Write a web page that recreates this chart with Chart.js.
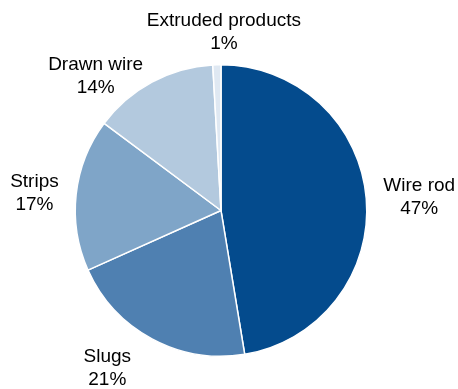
<!DOCTYPE html>
<html>
<head>
<meta charset="utf-8">
<script src="https://cdn.jsdelivr.net/npm/chart.js@4/dist/chart.umd.min.js"></script>
<style>
  html, body { margin: 0; padding: 0; background: #fff; }
  #wrap { width: 458px; height: 389px; }
</style>
</head>
<body>
<div id="wrap"><canvas id="productPie" width="458" height="389"></canvas></div>
<script>
// Product mix, clockwise from 12 o'clock
const categories = ['Wire rod', 'Slugs', 'Strips', 'Drawn wire', 'Extruded products'];
const shares = [47.4, 20.9, 16.9, 13.9, 0.9];
const shareLabels = ['47%', '21%', '17%', '14%', '1%'];

const sliceColors = ['#044b8d', '#4f80b1', '#7fa5c8', '#b3c9de', '#dfe8f2'];

// label block centres, relative to pie centre, in units of the radius
const labelAnchors = [
    [1.36, -0.09],
    [-0.78, 1.08],
    [-1.28, -0.12],
    [-0.86, -0.92],
    [0.02, -1.22]
];

const FONT = '19px "Liberation Sans", Arial, sans-serif';

const outsideLabels = {
    id: 'outsideLabels',
    afterDraw(chart) {
        const arc = chart.getDatasetMeta(0).data[0];
        if (!arc) return;
        const { x, y, outerRadius } = arc.getProps(['x', 'y', 'outerRadius'], true);
        const ctx = chart.ctx;
        ctx.save();
        ctx.font = FONT;
        ctx.fillStyle = '#000';
        ctx.textAlign = 'center';
        ctx.textBaseline = 'middle';
        categories.forEach((name, i) => {
            const cx = x + labelAnchors[i][0] * outerRadius;
            const cy = y + labelAnchors[i][1] * outerRadius;
            ctx.fillText(name, cx, cy - 11.5);
            ctx.fillText(shareLabels[i], cx, cy + 11.5);
        });
        ctx.restore();
    }
};

new Chart(document.getElementById('productPie').getContext('2d'), {
    type: 'pie',
    data: {
        labels: categories,
        datasets: [{
            data: shares,
            backgroundColor: sliceColors,
            borderColor: '#ffffff',
            borderWidth: 1.5
        }]
    },
    options: {
        responsive: false,
        animation: false,
        layout: { padding: { top: 64, bottom: 32, left: 74, right: 90 } },
        plugins: {
            legend: { display: false },
            tooltip: { enabled: false }
        }
    },
    plugins: [outsideLabels]
});
</script>
</body>
</html>
